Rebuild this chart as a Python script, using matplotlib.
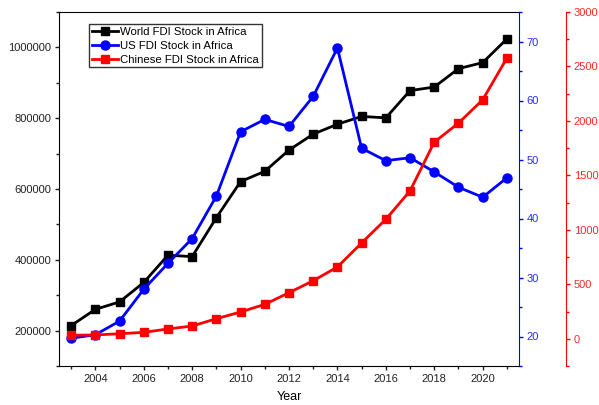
import matplotlib.pyplot as plt
from matplotlib.ticker import MultipleLocator, ScalarFormatter

plt.rcParams['font.family'] = ['Liberation Sans', 'DejaVu Sans']
plt.rcParams['font.size'] = 8

years = list(range(2003, 2022))
world_fdi = [214000, 260000, 281000, 336000, 413000, 409000, 519000, 621000, 650000,
             710000, 755000, 783000, 805000, 801000, 878000, 888000, 940000, 957000, 1024000]
us_fdi = [19.7, 20.3, 22.6, 28.0, 32.4, 36.6, 43.8, 54.7, 56.8, 55.6,
          60.7, 68.9, 51.9, 49.8, 50.3, 47.9, 45.3, 43.6, 46.9]
china_fdi = [32, 35, 46, 59, 90, 117, 184, 246, 316, 423,
             533, 659, 880, 1097, 1358, 1805, 1980, 2194, 2577]

fig = plt.figure(figsize=(5.99, 4.05), dpi=100)
ax = fig.add_axes([59 / 599, 1 - 366 / 405, 460 / 599, 354 / 405])
ax_us = ax.twinx()
ax_cn = ax.twinx()
ax_cn.spines['right'].set_position(('axes', (566 - 59) / 460))

l1, = ax.plot(years, world_fdi, color='black', marker='s', markersize=6, lw=2,
              label='World FDI Stock in Africa', zorder=3)
l2, = ax_us.plot(years, us_fdi, color='blue', marker='o', markersize=6.5, lw=2,
                 label='US FDI Stock in Africa')
l3, = ax_cn.plot(years, china_fdi, color='red', marker='s', markersize=6, lw=2,
                 label='Chinese FDI Stock in Africa')

ax.set_xlim(2002.5, 2021.5)
ax.set_ylim(100000, 1100000)
ax_us.set_ylim(15, 75)
ax_cn.set_ylim(-250, 3000)

# plain integers on the left axis, no 1e6 offset
fmt = ScalarFormatter(useOffset=False)
fmt.set_scientific(False)
ax.yaxis.set_major_formatter(fmt)

ax.xaxis.set_major_locator(MultipleLocator(2))
ax.xaxis.set_minor_locator(MultipleLocator(1))
ax.yaxis.set_major_locator(MultipleLocator(200000))
ax.yaxis.set_minor_locator(MultipleLocator(100000))
ax_us.yaxis.set_major_locator(MultipleLocator(10))
ax_us.yaxis.set_minor_locator(MultipleLocator(5))
ax_cn.yaxis.set_major_locator(MultipleLocator(500))
ax_cn.yaxis.set_minor_locator(MultipleLocator(250))

for a in (ax, ax_us, ax_cn):
    a.tick_params(which='major', length=3, width=1, direction='out', pad=2.5)
    a.tick_params(which='minor', length=2, width=1, direction='out')
ax.tick_params(colors='#222222', which='both')

ax.set_xlabel('Year', fontsize=9)
ax.xaxis.set_label_coords(0.5, -0.072)

ax_us.spines['right'].set_color('blue')
ax_us.tick_params(axis='y', which='both', colors='blue', labelcolor='#2a2aff')
ax_cn.spines['right'].set_color('red')
ax_cn.tick_params(axis='y', which='both', colors='red', labelcolor='#ff2a2a')
for a in (ax_us, ax_cn):
    a.spines['top'].set_visible(False)
    a.spines['left'].set_visible(False)
    a.spines['bottom'].set_visible(False)
ax.spines['right'].set_visible(False)

leg = ax.legend(handles=[l1, l2, l3], loc='upper left', bbox_to_anchor=(0.065, 0.965),
                fontsize=8.2, frameon=True, fancybox=False, edgecolor='black',
                handlelength=2.3, handletextpad=0.2, borderpad=0.25, labelspacing=0.32,
                borderaxespad=0)
leg.get_frame().set_linewidth(1)

fig.savefig('out.png', dpi=100)
